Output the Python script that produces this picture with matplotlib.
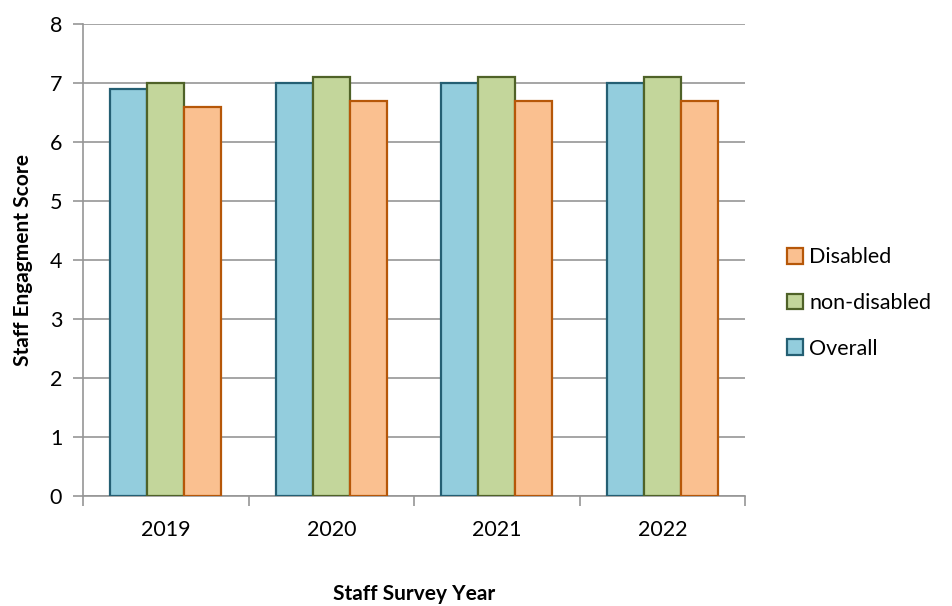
import matplotlib.pyplot as plt
import numpy as np

plt.rcParams['font.family'] = ['Lato', 'DejaVu Sans']

years = ['2019', '2020', '2021', '2022']
overall = [6.9, 7.0, 7.0, 7.0]
non_disabled = [7.0, 7.1, 7.1, 7.1]
disabled = [6.6, 6.7, 6.7, 6.7]

fig = plt.figure(figsize=(9.52, 6.06), dpi=100)
ax = fig.add_axes([0.0872, 0.1815, 0.6954, 0.7789])

x = np.arange(len(years))
w = 0.223
grid_c = '#969696'

ax.bar(x - w, overall, w, color='#93CDDD', edgecolor='#245F73', linewidth=1.6,
       label='Overall', zorder=3)
ax.bar(x, non_disabled, w, color='#C3D69B', edgecolor='#4F6228', linewidth=1.6,
       label='non-disabled', zorder=3)
ax.bar(x + w, disabled, w, color='#FAC090', edgecolor='#B65708', linewidth=1.6,
       label='Disabled', zorder=3)

ax.set_xlim(-0.5, 3.5)
ax.set_ylim(0, 8)
ax.set_yticks(range(0, 9))
ax.yaxis.grid(True, color=grid_c, linewidth=1.2, zorder=0)

# category-boundary ticks, labels centred
ax.set_xticks(np.arange(-0.5, 4, 1))
ax.set_xticklabels([])
ax.set_xticks(x, minor=True)
ax.set_xticklabels(years, minor=True)
ax.tick_params(axis='x', which='minor', length=0, pad=17, labelsize=15.5)
ax.tick_params(axis='x', which='major', length=7, color=grid_c, width=1.2)
ax.tick_params(axis='y', length=7, color=grid_c, width=1.2, labelsize=15.5, pad=8)

for s in ['top', 'right']:
    ax.spines[s].set_visible(False)
for s in ['left', 'bottom']:
    ax.spines[s].set_color(grid_c)
    ax.spines[s].set_linewidth(1.2)

ax.set_ylabel('Staff Engagment Score', fontsize=15, fontweight='bold', labelpad=12)
ax.set_xlabel('Staff Survey Year', fontsize=15, fontweight='bold', labelpad=32)

h, l = ax.get_legend_handles_labels()
fig.legend(h[::-1], l[::-1], loc='center left', bbox_to_anchor=(0.806, 0.5),
           frameon=False, fontsize=15.5, handlelength=0.75, handleheight=0.75,
           handletextpad=0.3, labelspacing=1.2)

fig.savefig('out.png', dpi=100)
